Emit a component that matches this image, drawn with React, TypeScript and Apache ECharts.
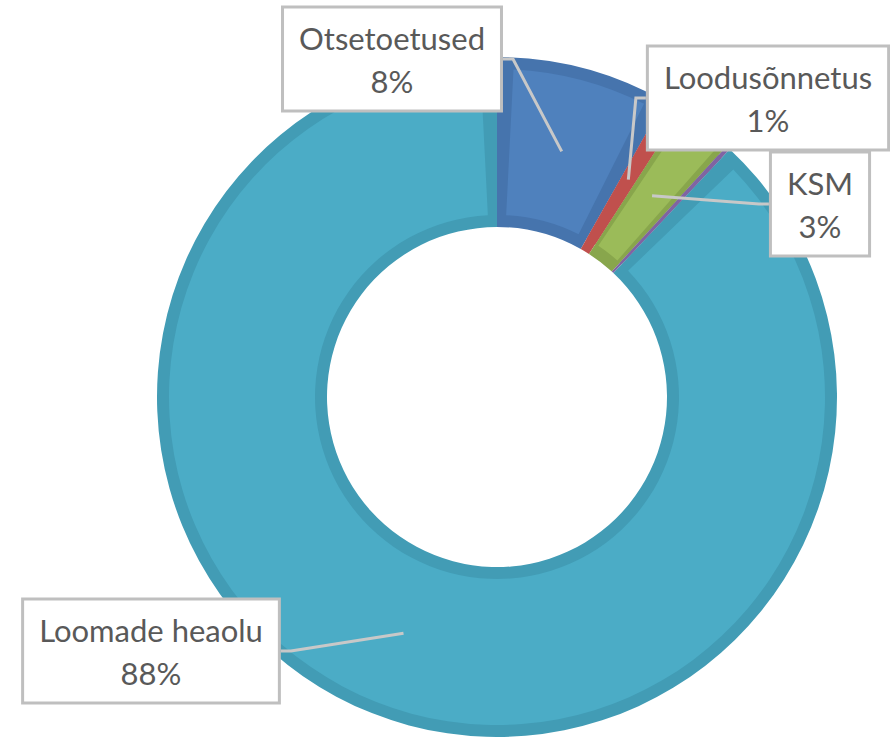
import React, { useEffect, useRef } from "react";
import * as echarts from "echarts";

const names = ["Otsetoetused", "Loodusõnnetus", "KSM", "Muu", "Loomade heaolu"];
const values = [8.2, 0.9, 2.7, 0.2, 88.0];
const showLabel = [true, true, true, false, true];

// styling (kept apart from the data)
const mainColors = ["#4F81BD", "#C0504D", "#9BBB59", "#8064A2", "#4BACC6"];
const darkColors = ["#4674AD", "#C0504D", "#88A64C", "#8064A2", "#429CB5"];
const bevelGap = [0.8, 0, 0.3, 0, 0.8];
const labelPos: [number, number][] = [
  [392, 59],
  [768, 98],
  [820, 204],
  [0, 0],
  [151, 651],
];

export default function App() {
  const ref = useRef<HTMLDivElement>(null);
  useEffect(() => {
    if (!ref.current) return;
    const chart = echarts.init(ref.current, undefined, { renderer: "svg" });
    const center = [497, 397];

    const under = names.map((n, i) => ({
      name: n,
      value: values[i],
      itemStyle: { color: darkColors[i] },
    }));

    const over: any[] = [];
    names.forEach((n, i) => {
      const g = bevelGap[i];
      if (g > 0) {
        over.push({ name: n + "_a", value: g, itemStyle: { color: "rgba(0,0,0,0)" } });
        over.push({ name: n, value: values[i] - 2 * g, itemStyle: { color: mainColors[i] } });
        over.push({ name: n + "_b", value: g, itemStyle: { color: "rgba(0,0,0,0)" } });
      } else {
        over.push({ name: n, value: values[i], itemStyle: { color: mainColors[i] } });
      }
    });

    const labelData = names.map((n, i) => ({
      name: n,
      value: values[i],
      label: { show: showLabel[i] },
      labelLine: { show: showLabel[i] },
    }));

    chart.setOption({
      animation: false,
      series: [
        {
          type: "pie",
          silent: true,
          center,
          radius: [170, 340],
          startAngle: 90,
          clockwise: true,
          label: { show: false },
          labelLine: { show: false },
          data: under,
          z: 1,
        },
        {
          type: "pie",
          silent: true,
          center,
          radius: [182, 328],
          startAngle: 90,
          clockwise: true,
          label: { show: false },
          labelLine: { show: false },
          data: over,
          z: 2,
        },
        {
          type: "pie",
          center,
          radius: [170, 254],
          startAngle: 90,
          clockwise: true,
          percentPrecision: 0,
          avoidLabelOverlap: false,
          itemStyle: { color: "rgba(0,0,0,0)" },
          emphasis: { disabled: true },
          label: {
            show: true,
            position: "outside",
            formatter: "{b}\n{d}%",
            fontFamily: "Lato",
            fontSize: 31,
            lineHeight: 43,
            color: "#595959",
            backgroundColor: "#ffffff",
            borderColor: "#BFBFBF",
            borderWidth: 3,
            padding: [8, 15, 7, 15],
            align: "center",
          },
          labelLine: {
            show: true,
            length: 10,
            length2: 10,
            lineStyle: { color: "#C8C8C8", width: 3 },
          },
          labelLayout: (params: any) => {
            const p = labelPos[params.dataIndex];
            return { x: p[0], y: p[1], align: "center", verticalAlign: "middle" };
          },
          data: labelData,
          z: 5,
        },
      ],
    });
    return () => chart.dispose();
  }, []);
  return (
    <div
      ref={ref}
      style={{ position: "fixed", left: 0, top: 0, width: 890, height: 737, background: "#fff" }}
    />
  );
}
